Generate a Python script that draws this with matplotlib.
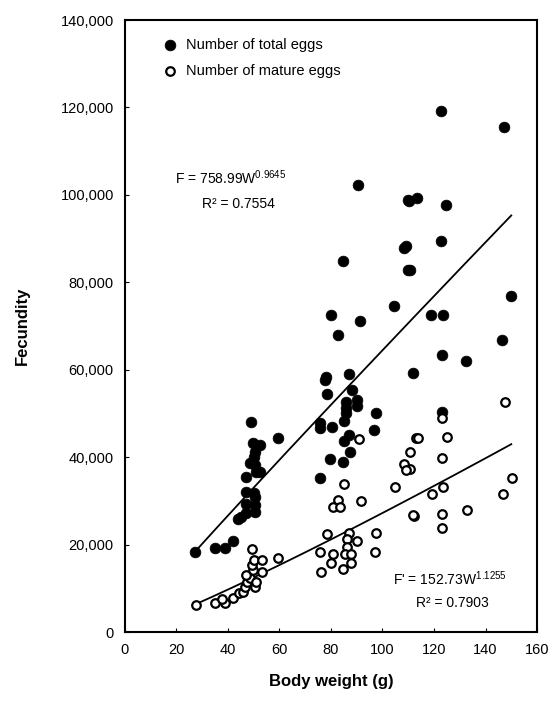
import numpy as np
import matplotlib.pyplot as plt

plt.rcParams['font.family'] = ['Liberation Sans', 'DejaVu Sans']
plt.rcParams['mathtext.fontset'] = 'custom'
plt.rcParams['mathtext.rm'] = 'Liberation Sans'
plt.rcParams['mathtext.it'] = 'Liberation Sans'

# total eggs: body weight (g), fecundity
tot_w = [27.2, 35, 39, 42, 44, 45, 47, 50.5, 50.5, 47, 47, 50, 50.5, 47, 51, 52.3,
         48.5, 50.5, 50, 50.5, 49.7, 52.4, 49, 59.4,
         78.5, 88, 86, 90, 90, 86, 86, 85, 75.7, 75.7, 80.4, 97.5, 96.7, 87, 85, 87.4,
         79.6, 84.7, 75.7, 77.7, 78, 87,
         90.5, 110, 108.4, 109, 110, 84.7, 80, 91.3, 82.7, 104.5,
         122.7, 147.2, 110.3, 113.4, 124.7, 122.7, 110.7, 149.9, 118.8, 123.5,
         146.4, 123.1, 132.4, 111.8, 123.1]
tot_f = [18300, 19200, 19200, 20800, 25900, 26300, 27200, 27500, 29000, 29300, 32000, 31800, 30900, 35500, 36600, 36600,
         38700, 38300, 40000, 41200, 43200, 42800, 48000, 44400,
         54400, 55400, 52600, 53000, 51800, 51300, 50100, 48300, 47800, 46700, 46900, 50100, 46200, 45100, 43700, 41200,
         39600, 38900, 35200, 57700, 58300, 59000,
         102300, 98800, 87900, 88200, 82800, 84900, 72500, 71200, 67900, 74600,
         119200, 115500, 98600, 99300, 97700, 89500, 82800, 76900, 72500, 72500,
         66800, 63400, 62000, 59300, 50300]

# mature eggs
mat_w = [27.6, 35, 38.8, 37.7, 42, 44.3, 45.8, 46.6, 47.4, 48.5, 50.5, 50.9, 47, 49.7, 53.2,
         49.3, 50, 53.2, 49.3, 59.4,
         90.9, 113, 110.7, 108.3, 110.7, 109, 85, 104.9, 82.7, 80.8, 83.5, 91.7, 112.2,
         78.4, 87, 86.2, 90, 97.5, 86.2, 75.7, 80.8, 85.4, 87.8, 97, 80, 87.8, 76, 84.7,
         147.6, 123.1, 113.8, 125, 123.1, 150.3, 123.5, 119.2, 146.8, 132.8, 111.8, 123.1, 123.1]
mat_f = [6200, 6600, 6600, 7500, 7800, 8900, 9200, 10300, 11400, 12400, 10300, 11400, 13000, 14200, 13700,
         15300, 16500, 16500, 19000, 16900,
         44200, 44400, 41200, 38400, 37300, 37000, 33900, 33200, 30200, 28600, 28600, 30000, 26500,
         22400, 22600, 21300, 20800, 22600, 19400, 18300, 17800, 17800, 17800, 18300, 15800, 15800, 13700, 14400,
         52600, 49000, 44400, 44600, 39800, 35200, 33200, 31600, 31600, 27900, 26800, 27000, 23800]

# fitted power curves F = a * W^b
tot_fit = (758.99, 0.9645)
mat_fit = (152.73, 1.1255)
fit_range = (27, 150)

fig = plt.figure(figsize=(5.6, 7.02), dpi=100)
ax = fig.add_axes([0.223, 0.0997, 0.736, 0.8718])

ax.scatter(tot_w, tot_f, s=60, c='black', edgecolors='black', linewidths=0.5,
           label='Number of total eggs', zorder=3)
ax.scatter(mat_w, mat_f, s=38, facecolors='white', edgecolors='black', linewidths=1.6,
           label='Number of mature eggs', zorder=3)

w = np.linspace(fit_range[0], fit_range[1], 200)
ax.plot(w, tot_fit[0] * w ** tot_fit[1], color='black', lw=1.3, zorder=2)
ax.plot(w, mat_fit[0] * w ** mat_fit[1], color='black', lw=1.3, zorder=2)

ax.text(19.5, 102500, r'F = 758.99W$^{\mathrm{0.9645}}$', fontsize=10)
ax.text(30, 97000, 'R² = 0.7554', fontsize=10)
ax.text(104, 10800, r"F' = 152.73W$^{\mathrm{1.1255}}$", fontsize=10)
ax.text(113, 5800, 'R² = 0.7903', fontsize=10)

ax.set_xlim(0, 160)
ax.set_ylim(0, 140000)
ax.set_xticks(range(0, 161, 20))
ax.set_yticks(range(0, 140001, 20000))
ax.set_yticklabels([f'{v:,}' for v in range(0, 140001, 20000)])
ax.tick_params(direction='in', length=3, labelsize=10.5, pad=8)
for s in ax.spines.values():
    s.set_linewidth(1.5)

ax.set_xlabel('Body weight (g)', fontsize=12, fontweight='bold', labelpad=12)
ax.set_ylabel('Fecundity', fontsize=12, fontweight='bold', labelpad=22)

ax.legend(loc='upper left', bbox_to_anchor=(0.06, 0.98), frameon=False, fontsize=10.5,
          handletextpad=0.1, labelspacing=0.8, borderaxespad=0)

plt.savefig('out.png')
